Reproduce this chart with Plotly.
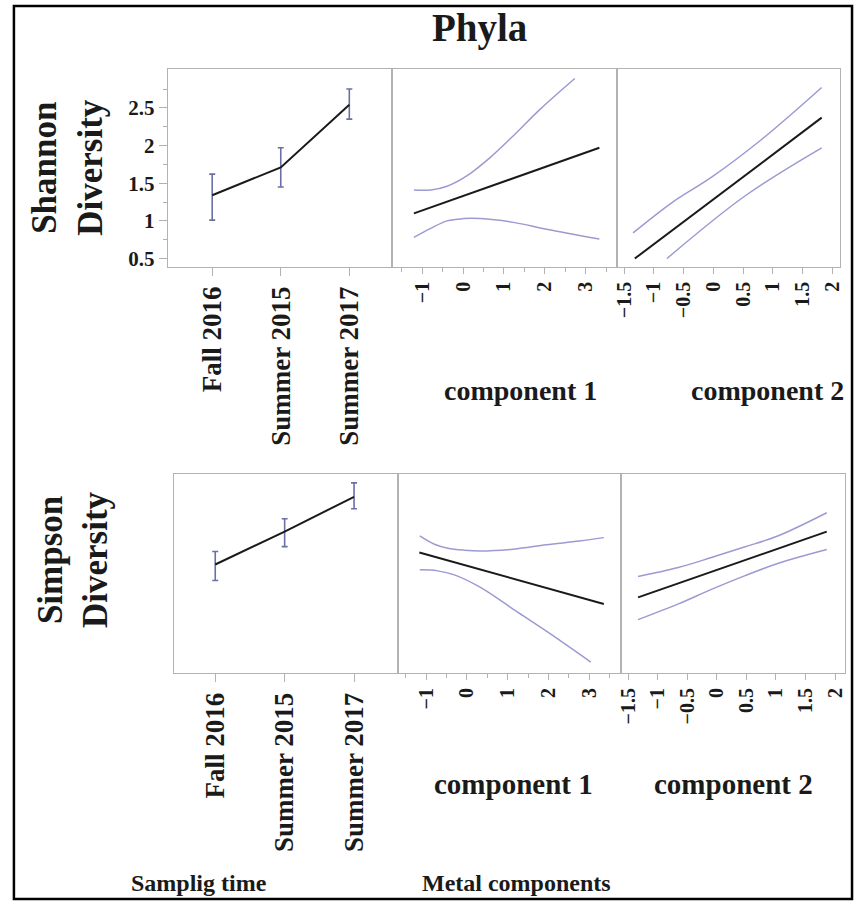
import plotly.graph_objects as go

W, H = 858, 907

# ---------------- data ----------------
seasons = ["Fall 2016", "Summer 2015", "Summer 2017"]

shannon_mean = [1.34, 1.71, 2.54]
shannon_upper = [1.62, 1.97, 2.75]
shannon_lower = [1.01, 1.45, 2.35]

# Shannon vs component 1
sh_c1_fit_x = [-1.20, 3.33]
sh_c1_fit_y = [1.10, 1.97]
sh_c1_up_x = [-1.20, -0.79, -0.39, 0.10, 0.66, 1.23, 1.88, 2.73]
sh_c1_up_y = [1.41, 1.41, 1.46, 1.60, 1.84, 2.13, 2.48, 2.89]
sh_c1_lo_x = [-1.20, -0.79, -0.39, 0.01, 0.42, 1.23, 2.04, 3.33]
sh_c1_lo_y = [0.78, 0.90, 1.00, 1.03, 1.03, 0.98, 0.89, 0.76]

# Shannon vs component 2
sh_c2_fit_x = [-1.32, 1.82]
sh_c2_fit_y = [0.50, 2.37]
sh_c2_up_x = [-1.35, -0.70, -0.03, 0.81, 1.82]
sh_c2_up_y = [0.84, 1.24, 1.58, 2.08, 2.77]
sh_c2_lo_x = [-0.78, 0.53, 1.82]
sh_c2_lo_y = [0.50, 1.33, 1.97]

# Simpson (relative scale, no tick labels in the reference)
simpson_mean = [0.545, 0.71, 0.885]
simpson_upper = [0.61, 0.775, 0.955]
simpson_lower = [0.465, 0.635, 0.825]

si_c1_fit_x = [-1.17, 3.36]
si_c1_fit_y = [0.605, 0.347]
si_c1_up_x = [-1.16, -0.80, -0.47, -0.07, 0.33, 1.14, 1.95, 2.76, 3.36]
si_c1_up_y = [0.689, 0.647, 0.627, 0.617, 0.613, 0.622, 0.644, 0.663, 0.68]
si_c1_lo_x = [-1.16, -0.72, -0.31, 0.33, 1.14, 1.95, 3.04]
si_c1_lo_y = [0.518, 0.513, 0.493, 0.43, 0.32, 0.21, 0.055]

si_c2_fit_x = [-1.33, 1.86]
si_c2_fit_y = [0.38, 0.71]
si_c2_up_x = [-1.33, -0.65, -0.09, 0.47, 1.03, 1.86]
si_c2_up_y = [0.485, 0.53, 0.58, 0.633, 0.688, 0.805]
si_c2_lo_x = [-1.33, -0.65, -0.09, 0.47, 1.03, 1.86]
si_c2_lo_y = [0.268, 0.347, 0.42, 0.488, 0.55, 0.62]

shannon_ticks = [0.5, 1, 1.5, 2, 2.5]
c1_ticks = [-1, 0, 1, 2, 3]
c2_ticks = [-1.5, -1, -0.5, 0, 0.5, 1, 1.5, 2]

# ---------------- styling ----------------
FONT = "Liberation Serif"
BLACK = "#1a1a1a"
ERR = "#6a70a6"
BAND = "#9c9ad2"
FRAME = "#b2b2b2"


def px_x(p):
    return p / W


def px_y(p):
    return 1 - p / H


fig = go.Figure()


def err_trace(means, ups, lows, xa, ya):
    fig.add_trace(go.Scatter(
        x=seasons, y=means, mode="lines", xaxis=xa, yaxis=ya,
        line=dict(color=BLACK, width=2),
        error_y=dict(type="data", symmetric=False,
                     array=[u - m for u, m in zip(ups, means)],
                     arrayminus=[m - l for m, l in zip(means, lows)],
                     color=ERR, thickness=1.6, width=3),
        showlegend=False))


def line_trace(x, y, xa, ya, color, width, spline=True):
    fig.add_trace(go.Scatter(
        x=x, y=y, mode="lines", xaxis=xa, yaxis=ya,
        line=dict(color=color, width=width, shape="spline" if spline else "linear"),
        showlegend=False))


err_trace(shannon_mean, shannon_upper, shannon_lower, "x", "y")
line_trace(sh_c1_up_x, sh_c1_up_y, "x2", "y2", BAND, 1.5)
line_trace(sh_c1_lo_x, sh_c1_lo_y, "x2", "y2", BAND, 1.5)
line_trace(sh_c1_fit_x, sh_c1_fit_y, "x2", "y2", BLACK, 2, False)
line_trace(sh_c2_up_x, sh_c2_up_y, "x3", "y3", BAND, 1.5)
line_trace(sh_c2_lo_x, sh_c2_lo_y, "x3", "y3", BAND, 1.5)
line_trace(sh_c2_fit_x, sh_c2_fit_y, "x3", "y3", BLACK, 2, False)

err_trace(simpson_mean, simpson_upper, simpson_lower, "x4", "y4")
line_trace(si_c1_up_x, si_c1_up_y, "x5", "y5", BAND, 1.5)
line_trace(si_c1_lo_x, si_c1_lo_y, "x5", "y5", BAND, 1.5)
line_trace(si_c1_fit_x, si_c1_fit_y, "x5", "y5", BLACK, 2, False)
line_trace(si_c2_up_x, si_c2_up_y, "x6", "y6", BAND, 1.5)
line_trace(si_c2_lo_x, si_c2_lo_y, "x6", "y6", BAND, 1.5)
line_trace(si_c2_fit_x, si_c2_fit_y, "x6", "y6", BLACK, 2, False)


def xaxis_cat(dom, anchor, rng):
    return dict(domain=dom, anchor=anchor, type="category", range=rng,
                showline=True, mirror=True, linecolor=FRAME, linewidth=1,
                ticks="outside", ticklen=8, tickcolor=FRAME, tickwidth=1,
                tickangle=-90, showgrid=False, zeroline=False,
                tickfont=dict(family=FONT, size=27, color=BLACK, weight="bold"))


def xaxis_num(dom, anchor, rng, tv):
    return dict(domain=dom, anchor=anchor, range=rng, tickvals=tv,
                showline=True, mirror=True, linecolor=FRAME, linewidth=1,
                ticks="outside", ticklen=6, tickcolor=FRAME, tickwidth=1,
                minor=dict(ticks="outside", ticklen=4, tickcolor=FRAME, dtick=0.5, tick0=0),
                tickangle=-90, showgrid=False, zeroline=False,
                tickfont=dict(family=FONT, size=20, color=BLACK, weight="bold"))


def yaxis(dom, anchor, rng, labels):
    d = dict(domain=dom, anchor=anchor, range=rng,
             showline=True, mirror=True, linecolor=FRAME, linewidth=1,
             showgrid=False, zeroline=False)
    if labels:
        d.update(tickvals=shannon_ticks, ticks="outside", ticklen=8,
                 tickcolor=FRAME, tickwidth=1,
                 minor=dict(ticks="outside", ticklen=4, tickcolor=FRAME, dtick=0.5, tick0=0.25),
                 tickfont=dict(family=FONT, size=21, color=BLACK, weight="bold"))
    else:
        d.update(showticklabels=False, ticks="")
    return d


top = [px_y(268), px_y(69)]
bot = [px_y(676), px_y(476)]
sh_rng = [0.39, 3.02]
si_rng = [0.0, 1.0]

fig.update_layout(
    width=W, height=H, margin=dict(l=0, r=0, t=0, b=0),
    paper_bgcolor="white", plot_bgcolor="white",
    xaxis=xaxis_cat([px_x(165), px_x(391)], "y", [-0.65, 2.62]),
    xaxis2=xaxis_num([px_x(391), px_x(618)], "y2", [-1.74, 3.76], c1_ticks),
    xaxis3=xaxis_num([px_x(618), px_x(843)], "y3", [-1.62, 2.13], c2_ticks),
    xaxis4=xaxis_cat([px_x(171), px_x(397)], "y4", [-0.6, 2.63]),
    xaxis5=xaxis_num([px_x(397), px_x(622)], "y5", [-1.70, 3.78], c1_ticks),
    xaxis6=xaxis_num([px_x(622), px_x(848)], "y6", [-1.62, 2.17], c2_ticks),
    yaxis=yaxis(top, "x", sh_rng, True),
    yaxis2=yaxis(top, "x2", sh_rng, False),
    yaxis3=yaxis(top, "x3", sh_rng, False),
    yaxis4=yaxis(bot, "x4", si_rng, False),
    yaxis5=yaxis(bot, "x5", si_rng, False),
    yaxis6=yaxis(bot, "x6", si_rng, False),
)


def ann(text, x, y, size, angle=0):
    fig.add_annotation(text=text, x=px_x(x), y=px_y(y), xref="paper", yref="paper",
                       xanchor="center", yanchor="middle", showarrow=False,
                       textangle=angle,
                       font=dict(family=FONT, size=size, color=BLACK, weight="bold"))


ann("Phyla", 479, 28, 39)
ann("Shannon<br>Diversity", 64, 168, 35, -90)
ann("Simpson<br>Diversity", 70, 562, 35, -90)
ann("component 1", 521, 392, 28)
ann("component 2", 770, 392, 28)
ann("component 1", 514, 787, 29)
ann("component 2", 736, 787, 29)
ann("Samplig time", 197, 887, 24)
ann("Metal components", 517, 887, 24)

fig.add_shape(type="rect", xref="paper", yref="paper",
              x0=px_x(10), x1=px_x(855), y0=px_y(903), y1=px_y(6),
              line=dict(color="black", width=2.5))

fig.write_html("out.html")
